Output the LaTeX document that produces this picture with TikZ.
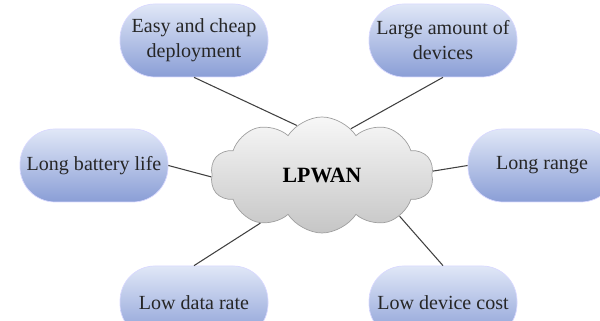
\documentclass[tikz,border=0pt]{standalone}
\usepackage{fontspec}
\setmainfont{Liberation Serif}
\usepackage{tikz}
\usetikzlibrary{shapes.symbols, shapes.misc}

\begin{document}
\begin{tikzpicture}[
    feature/.style={rectangle, rounded corners=0.7cm, draw=blue!15,
      top color={rgb,255:red,224;green,231;blue,247},
      bottom color={rgb,255:red,138;green,158;blue,214},
      minimum width=2.96cm, minimum height=1.46cm, align=center,
      font=\fontsize{11.4}{14.2}\selectfont, text=black!85},
    hub/.style={cloud, cloud puffs=10, cloud puff arc=115, aspect=1.9,
      draw=gray!75, top color=gray!6, bottom color=gray!45,
      minimum width=4.46cm, minimum height=2.32cm,
      font=\fontsize{12.4}{14}\selectfont\bfseries},
    link/.style={draw=black!75, line width=0.6pt}]
  \clip (0,0) rectangle (12,6.42);
  % Nuage central
  \node[hub] (lpwan) at (6.44, 2.92) {LPWAN};
  % Caractéristiques autour
  \node[feature] (easy) at (3.88, 5.61) {Easy and cheap\\deployment};
  \node[feature] (large) at (8.86, 5.61) {Large amount of\\devices};
  \node[feature] (battery) at (1.88, 3.11) {Long battery life};
  \node[feature] (range) at (10.84, 3.11) {Long range};
  \node[feature] (rate) at (3.88, 0.37) {Low data rate};
  \node[feature] (cost) at (8.86, 0.37) {Low device cost};
  % Liens vers le nuage
  \draw[link] (easy.south) -- (lpwan.117);
  \draw[link] (large.south) -- (lpwan.58);
  \draw[link] (battery.east) -- (lpwan.181);
  \draw[link] (range.west) -- (lpwan.2);
  \draw[link] (rate.north) -- (lpwan.218);
  \draw[link] (cost.north) -- (lpwan.332);
\end{tikzpicture}
\end{document}
